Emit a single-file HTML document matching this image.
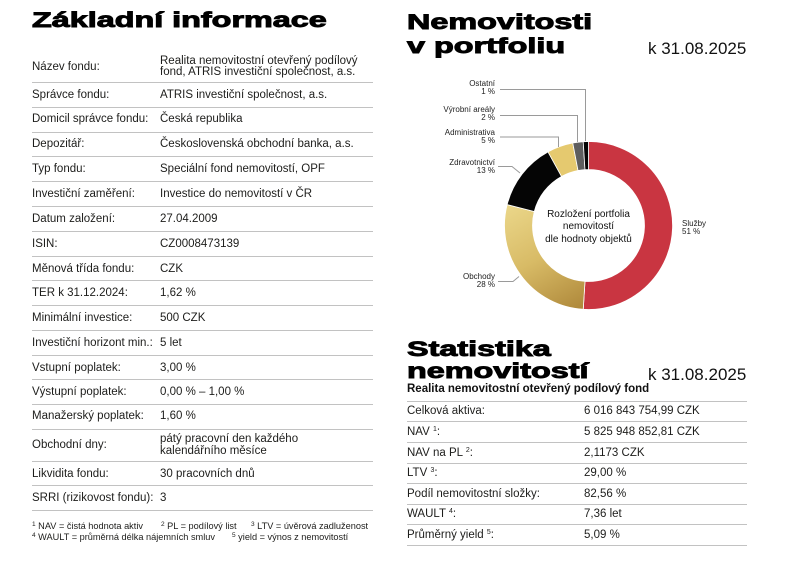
<!DOCTYPE html>
<html>
<head>
<meta charset="utf-8">
<style>
  html,body{margin:0;padding:0;background:#fff;}
  body{width:800px;height:568px;position:relative;overflow:hidden;font-family:"Liberation Sans",Arial,sans-serif;color:#1d1d1b;}
  .abs{position:absolute;white-space:nowrap;}
  .h{position:absolute;white-space:nowrap;font-weight:bold;font-size:21px;line-height:22px;transform:scaleX(1.54);transform-origin:0 0;-webkit-text-stroke:0.9px #000;color:#000;}
  .date{position:absolute;white-space:nowrap;font-size:17px;line-height:17px;color:#111;}
  .line{position:absolute;height:1px;background:#c2c2c2;}
  .row{position:absolute;font-size:11.5px;}
  .lab{position:absolute;left:0;top:0;line-height:var(--h);white-space:nowrap;}
  .val{position:absolute;top:0;line-height:var(--h);white-space:nowrap;}
  .val2{position:absolute;line-height:11.5px;white-space:nowrap;}
  .lbl{position:absolute;font-size:8px;line-height:8.3px;text-align:right;color:#222;white-space:nowrap;}
  sup{font-size:7px;vertical-align:0;position:relative;top:-4px;line-height:0;}
  .fn{position:absolute;white-space:nowrap;font-size:9.2px;line-height:10px;}
  .fn sup{font-size:6.5px;top:-3px;}
</style>
</head>
<body>

<!-- LEFT: Základní informace -->
<div class="h" style="left:32px;top:10px;">Základní informace</div>

<!-- left table lines -->
<div class="line" style="left:32px;width:341px;top:82px;"></div>
<div class="line" style="left:32px;width:341px;top:107px;"></div>
<div class="line" style="left:32px;width:341px;top:132px;"></div>
<div class="line" style="left:32px;width:341px;top:156px;"></div>
<div class="line" style="left:32px;width:341px;top:181px;"></div>
<div class="line" style="left:32px;width:341px;top:206px;"></div>
<div class="line" style="left:32px;width:341px;top:231px;"></div>
<div class="line" style="left:32px;width:341px;top:256px;"></div>
<div class="line" style="left:32px;width:341px;top:280px;"></div>
<div class="line" style="left:32px;width:341px;top:305px;"></div>
<div class="line" style="left:32px;width:341px;top:330px;"></div>
<div class="line" style="left:32px;width:341px;top:355px;"></div>
<div class="line" style="left:32px;width:341px;top:379px;"></div>
<div class="line" style="left:32px;width:341px;top:404px;"></div>
<div class="line" style="left:32px;width:341px;top:429px;"></div>
<div class="line" style="left:32px;width:341px;top:461px;"></div>
<div class="line" style="left:32px;width:341px;top:485px;"></div>
<div class="line" style="left:32px;width:341px;top:510px;"></div>

<!-- left table rows -->
<div class="row" style="left:32px;top:50.5px;height:32px;width:341px;--h:32px;">
  <span class="lab">Název fondu:</span>
  <span class="val2" style="left:128px;top:5px;">Realita nemovitostní otevřený podílový<br>fond, ATRIS investiční společnost, a.s.</span>
</div>
<div class="row" style="left:32px;top:82.7px;width:341px;--h:24.6px;"><span class="lab">Správce fondu:</span><span class="val" style="left:128px;">ATRIS investiční společnost, a.s.</span></div>
<div class="row" style="left:32px;top:107.3px;width:341px;--h:25px;"><span class="lab">Domicil správce fondu:</span><span class="val" style="left:128px;">Česká republika</span></div>
<div class="row" style="left:32px;top:132.3px;width:341px;--h:24.4px;"><span class="lab">Depozitář:</span><span class="val" style="left:128px;">Československá obchodní banka, a.s.</span></div>
<div class="row" style="left:32px;top:156.7px;width:341px;--h:25px;"><span class="lab">Typ fondu:</span><span class="val" style="left:128px;">Speciální fond nemovitostí, OPF</span></div>
<div class="row" style="left:32px;top:181.7px;width:341px;--h:25px;"><span class="lab">Investiční zaměření:</span><span class="val" style="left:128px;">Investice do nemovitostí v ČR</span></div>
<div class="row" style="left:32px;top:206.7px;width:341px;--h:25px;"><span class="lab">Datum založení:</span><span class="val" style="left:128px;">27.04.2009</span></div>
<div class="row" style="left:32px;top:231.7px;width:341px;--h:25px;"><span class="lab">ISIN:</span><span class="val" style="left:128px;">CZ0008473139</span></div>
<div class="row" style="left:32px;top:256.7px;width:341px;--h:24.3px;"><span class="lab">Měnová třída fondu:</span><span class="val" style="left:128px;">CZK</span></div>
<div class="row" style="left:32px;top:281px;width:341px;--h:25px;"><span class="lab">TER k 31.12.2024:</span><span class="val" style="left:128px;">1,62 %</span></div>
<div class="row" style="left:32px;top:306px;width:341px;--h:24.7px;"><span class="lab">Minimální investice:</span><span class="val" style="left:128px;">500 CZK</span></div>
<div class="row" style="left:32px;top:330.7px;width:341px;--h:25px;"><span class="lab">Investiční horizont min.:</span><span class="val" style="left:128px;">5 let</span></div>
<div class="row" style="left:32px;top:355.7px;width:341px;--h:24.3px;"><span class="lab">Vstupní poplatek:</span><span class="val" style="left:128px;">3,00 %</span></div>
<div class="row" style="left:32px;top:380px;width:341px;--h:24.3px;"><span class="lab">Výstupní poplatek:</span><span class="val" style="left:128px;">0,00 % – 1,00 %</span></div>
<div class="row" style="left:32px;top:404.3px;width:341px;--h:25px;"><span class="lab">Manažerský poplatek:</span><span class="val" style="left:128px;">1,60 %</span></div>
<div class="row" style="left:32px;top:429.3px;width:341px;--h:32.4px;">
  <span class="lab">Obchodní dny:</span>
  <span class="val2" style="left:128px;top:5px;">pátý pracovní den každého<br>kalendářního měsíce</span>
</div>
<div class="row" style="left:32px;top:461.7px;width:341px;--h:24.3px;"><span class="lab">Likvidita fondu:</span><span class="val" style="left:128px;">30 pracovních dnů</span></div>
<div class="row" style="left:32px;top:486px;width:341px;--h:24.7px;"><span class="lab">SRRI (rizikovost fondu):</span><span class="val" style="left:128px;">3</span></div>

<!-- footnotes -->
<div class="fn" style="left:32px;top:520.5px;"><sup>1</sup> NAV = čistá hodnota aktiv</div>
<div class="fn" style="left:161px;top:520.5px;"><sup>2</sup> PL = podílový list</div>
<div class="fn" style="left:251px;top:520.5px;"><sup>3</sup> LTV = úvěrová zadluženost</div>
<div class="fn" style="left:32px;top:531.5px;"><sup>4</sup> WAULT = průměrná délka nájemních smluv</div>
<div class="fn" style="left:232px;top:531.5px;"><sup>5</sup> yield = výnos z nemovitostí</div>

<!-- RIGHT: Nemovitosti v portfoliu -->
<div class="h" style="left:407px;top:11px;line-height:23.5px;">Nemovitosti<br>v portfoliu</div>
<div class="date" style="left:648px;top:40px;">k 31.08.2025</div>

<svg class="abs" style="left:0;top:0;" width="800" height="568" viewBox="0 0 800 568">
  <defs>
    <linearGradient id="gold" gradientUnits="userSpaceOnUse" x1="515" y1="200" x2="575" y2="310">
      <stop offset="0" stop-color="#ebd78a"/>
      <stop offset="0.5" stop-color="#d8bb66"/>
      <stop offset="1" stop-color="#b08a3c"/>
    </linearGradient>
  </defs>
  <g stroke="#fff" stroke-width="0.8">
    <path d="M588.5,141.5 A84,84 0 1 1 583.23,309.33 L584.98,281.39 A56,56 0 1 0 588.5,169.5 Z" fill="#c93541"/>
    <path d="M583.23,309.33 A84,84 0 0 1 507.14,204.61 L534.26,211.57 A56,56 0 0 0 584.98,281.39 Z" fill="url(#gold)"/>
    <path d="M507.14,204.61 A84,84 0 0 1 548.03,151.89 L561.52,176.43 A56,56 0 0 0 534.26,211.57 Z" fill="#050505"/>
    <path d="M548.03,151.89 A84,84 0 0 1 572.76,142.99 L578.01,170.49 A56,56 0 0 0 561.52,176.43 Z" fill="#e5c96f"/>
    <path d="M572.76,142.99 A84,84 0 0 1 583.23,141.67 L584.98,169.61 A56,56 0 0 0 578.01,170.49 Z" fill="#5e5e5e"/>
    <path d="M583.23,141.67 A84,84 0 0 1 588.5,141.5 L588.5,169.5 A56,56 0 0 0 584.98,169.61 Z" fill="#050505"/>
  </g>
  <g fill="none" stroke="#9a9a9a" stroke-width="1">
    <polyline points="500,89.5 585.5,89.5 585.5,141"/>
    <polyline points="500,115.5 577.5,115.5 577.5,142"/>
    <polyline points="500,137 558.5,137 558.5,147"/>
    <polyline points="498,166.5 512,166.5 520,173"/>
    <polyline points="498,281.5 513,281.5 519,276.5"/>
  </g>
</svg>

<div class="lbl" style="right:305px;top:80px;">Ostatní<br>1 %</div>
<div class="lbl" style="right:305px;top:106px;">Výrobní areály<br>2 %</div>
<div class="lbl" style="right:305px;top:128.5px;">Administrativa<br>5 %</div>
<div class="lbl" style="right:305px;top:158.5px;">Zdravotnictví<br>13 %</div>
<div class="lbl" style="right:305px;top:272.5px;">Obchody<br>28 %</div>
<div class="lbl" style="left:682px;top:219.5px;text-align:left;">Služby<br>51 %</div>

<div class="abs" style="left:538px;width:101px;top:208.7px;font-size:10px;line-height:12.5px;text-align:center;color:#111;">Rozložení portfolia<br>nemovitostí<br>dle hodnoty objektů</div>

<!-- RIGHT: Statistika nemovitostí -->
<div class="h" style="left:407px;top:339px;">Statistika<br>nemovitostí</div>
<div class="date" style="left:648px;top:366px;">k 31.08.2025</div>
<div class="abs" style="left:407px;top:383px;font-size:11.5px;line-height:12px;font-weight:bold;color:#111;">Realita nemovitostní otevřený podílový fond</div>

<div class="line" style="left:407px;width:340px;top:401px;"></div>
<div class="line" style="left:407px;width:340px;top:421px;"></div>
<div class="line" style="left:407px;width:340px;top:442px;"></div>
<div class="line" style="left:407px;width:340px;top:463px;"></div>
<div class="line" style="left:407px;width:340px;top:483px;"></div>
<div class="line" style="left:407px;width:340px;top:504px;"></div>
<div class="line" style="left:407px;width:340px;top:524px;"></div>
<div class="line" style="left:407px;width:340px;top:545px;"></div>

<div class="row" style="left:407px;top:401px;width:340px;--h:20.7px;"><span class="lab">Celková aktiva:</span><span class="val" style="left:177px;">6 016 843 754,99 CZK</span></div>
<div class="row" style="left:407px;top:421.7px;width:340px;--h:21px;"><span class="lab">NAV <sup>1</sup>:</span><span class="val" style="left:177px;">5 825 948 852,81 CZK</span></div>
<div class="row" style="left:407px;top:442.7px;width:340px;--h:20.6px;"><span class="lab">NAV na PL <sup>2</sup>:</span><span class="val" style="left:177px;">2,1173 CZK</span></div>
<div class="row" style="left:407px;top:463.3px;width:340px;--h:20.7px;"><span class="lab">LTV <sup>3</sup>:</span><span class="val" style="left:177px;">29,00 %</span></div>
<div class="row" style="left:407px;top:484px;width:340px;--h:20.3px;"><span class="lab">Podíl nemovitostní složky:</span><span class="val" style="left:177px;">82,56 %</span></div>
<div class="row" style="left:407px;top:504.3px;width:340px;--h:20.7px;"><span class="lab">WAULT <sup>4</sup>:</span><span class="val" style="left:177px;">7,36 let</span></div>
<div class="row" style="left:407px;top:525px;width:340px;--h:20.7px;"><span class="lab">Průměrný yield <sup>5</sup>:</span><span class="val" style="left:177px;">5,09 %</span></div>

</body>
</html>
